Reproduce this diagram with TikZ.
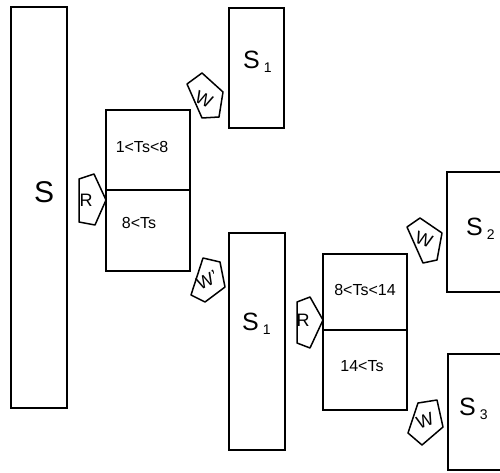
\documentclass[tikz,border=0pt]{standalone}
\usepackage{fontspec}
\setmainfont{Liberation Sans}
\newcommand{\Slab}[1]{S\hspace{4pt}\raisebox{-4pt}{\fontsize{14}{14}\selectfont #1}}
\begin{document}
\begin{tikzpicture}[x=1pt,y=-1pt,
  box/.style={draw=black, line width=1.6pt, inner sep=0pt},
  bigtxt/.style={font=\fontsize{30}{30}\selectfont, inner sep=0pt},
  stxt/.style={font=\fontsize{25}{25}\selectfont, inner sep=0pt, anchor=base west},
  condtxt/.style={font=\fontsize{16}{16}\selectfont, inner sep=0pt},
  sym/.style={draw=black, line width=1.5pt, line join=round},
  symtxt/.style={font=\fontsize{18}{18}\selectfont, inner sep=0pt}]
\clip (0,0) rectangle (500,473);
\fill[white] (0,0) rectangle (500,473);
% boxes
\node[box, minimum width=56pt, minimum height=401pt] (S) at (39,207.5) {};
\node[box, minimum width=84pt, minimum height=80pt] (D1a) at (148,150) {};
\node[box, minimum width=84pt, minimum height=81pt] (D1b) at (148,230.5) {};
\node[box, minimum width=55pt, minimum height=120pt] (S1a) at (256.5,68) {};
\node[box, minimum width=56pt, minimum height=217pt] (S1b) at (257,341.5) {};
\node[box, minimum width=84pt, minimum height=76pt] (D2a) at (365,292) {};
\node[box, minimum width=84pt, minimum height=80pt] (D2b) at (365,370) {};
\node[box, minimum width=73pt, minimum height=120pt] (S2) at (483.5,232) {};
\node[box, minimum width=72pt, minimum height=116pt] (S3) at (484,412) {};
% labels
\node[bigtxt, anchor=base west] (tS) at (34,202) {S};
\node[stxt] (tS1a) at (243,69) {\Slab{1}};
\node[stxt] (tS1b) at (242,330) {\Slab{1}};
\node[stxt] (tS2) at (466,235) {\Slab{2}};
\node[stxt] (tS3) at (459,415) {\Slab{3}};
\node[condtxt] (c1) at (142,147) {1<Ts<8};
\node[condtxt] (c2) at (139,223) {8<Ts};
\node[condtxt] (c3) at (365,290) {8<Ts<14};
\node[condtxt] (c4) at (362,366) {14<Ts};
% R symbols
\draw[sym] (79,179) -- (94,174) -- (106,200) -- (95,225) -- (79,222) -- cycle;
\node[symtxt] (R1) at (86,200) {R};
\draw[sym] (297,302) -- (310,297) -- (323,320) -- (310,348) -- (297,343) -- cycle;
\node[symtxt] (R2) at (303,320) {R};
% W symbols
\draw[sym] (187,84) -- (202,73) -- (223,92) -- (219,117) -- (202,118) -- cycle;
\node[symtxt, rotate=-25] (W1) at (204,99) {W};
\draw[sym] (203,258) -- (220,262) -- (225,287) -- (205,302) -- (191,295) -- cycle;
\node[symtxt, rotate=25] (W2) at (207,280) {W'};
\draw[sym] (407,227) -- (420,218) -- (442,233) -- (437,260) -- (423,263) -- cycle;
\node[symtxt, rotate=-20] (W3) at (424,240) {W};
\draw[sym] (418,403) -- (437,400) -- (443,427) -- (422,445) -- (408,433) -- cycle;
\node[symtxt, rotate=20] (W4) at (425,421) {W};
\end{tikzpicture}
\end{document}
